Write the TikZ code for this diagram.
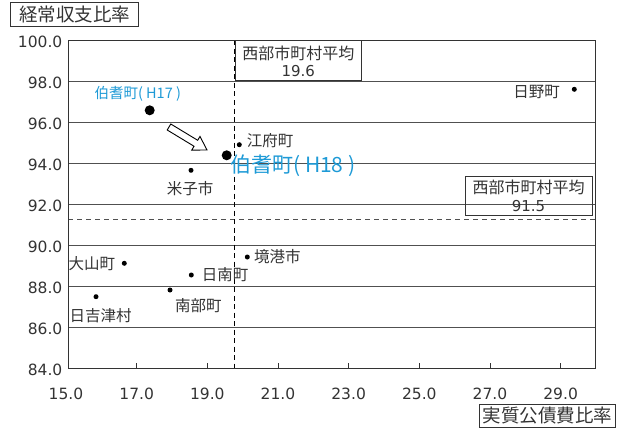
\documentclass[tikz,border=0pt]{standalone}
\usepackage{fontspec}
\setmainfont{Noto Sans CJK JP}
\newfontfamily\numfont{DejaVu Sans}
\definecolor{blu}{HTML}{1E9AD6}
\definecolor{gridc}{HTML}{505050}
\definecolor{txt}{HTML}{333333}
\begin{document}
\begin{tikzpicture}[x=1pt,y=-1pt,
  gridline/.style={draw=gridc,line width=0.9pt},
  axlab/.style={inner sep=0pt,text=txt,font=\numfont\fontsize{15.5}{16}\selectfont},
  ptlab/.style={inner sep=0pt,text=txt,font=\fontsize{15.5}{16}\selectfont},
  dot/.style={circle,fill=black,inner sep=0pt,minimum size=5pt},
  bigdot/.style={circle,fill=black,inner sep=0pt,minimum size=10pt},
  boxed/.style={draw=txt,line width=0.9pt},
  avglab/.style={inner sep=0pt,text=txt,font=\fontsize{16}{16}\selectfont},
  avgnum/.style={inner sep=0pt,text=txt,font=\numfont\fontsize{15}{16}\selectfont},
  titlab/.style={inner sep=0pt,text=txt,font=\fontsize{18.5}{19}\selectfont}]
\useasboundingbox (0,0) rectangle (617,433);
% grid lines
\foreach \v in {98,96,94,92,90,88,86}
  \draw[gridline] (68,{40.5+(100-\v)*20.5}) -- (595,{40.5+(100-\v)*20.5});
% dashed averages
\draw[gridc,line width=0.9pt,dash pattern=on 5pt off 4pt] (68,219) -- (595,219);
\draw[black,line width=0.9pt,dash pattern=on 5pt off 3.5pt] (234.3,40.5) -- (234.3,368.5);
% frame
\draw[line width=1pt,draw=txt] (68,40.5) rectangle (595,368.5);
% ticks
\foreach \v in {17,19,...,29}
  \draw[line width=0.9pt,draw=txt] ({66+(\v-15)*35.33},368.5) -- ({66+(\v-15)*35.33},362.5);
% y labels
\foreach \v/\t in {100/100.0,98/98.0,96/96.0,94/94.0,92/92.0,90/90.0,88/88.0,86/86.0,84/84.0}
  \node[axlab,anchor=east] (y\v) at (62.5,{42+(100-\v)*20.5}) {\t};
% x labels
\foreach \v in {15,17,...,29}
  \node[axlab] (x\v) at ({66+(\v-15)*35.33},394) {\v.0};
% axis titles
\draw[boxed] (10.7,2.7) rectangle (138.3,26);
\node[titlab] (ytitle) at (74.5,14.5) {経常収支比率};
\draw[boxed] (479,404.3) rectangle (615,427.7);
\node[titlab] (xtitle) at (547.5,416) {実質公債費比率};
% average boxes
\draw[boxed] (235,40.5) rectangle (361.7,80.7);
\node[avglab] (avgx1) at (298.3,53) {西部市町村平均};
\node[avgnum] (avgx2) at (298.3,71) {19.6};
\draw[boxed] (465.7,176) rectangle (592.3,215);
\node[avglab] (avgy1) at (528.5,187.5) {西部市町村平均};
\node[avgnum] (avgy2) at (528.5,206) {91.5};
% data points
\node[bigdot] (h17) at (149.7,110.3) {};
\node[bigdot] (h18) at (226.7,155.3) {};
\node[dot] (kofu) at (239.3,144.7) {};
\node[dot] (yonago) at (191,170.3) {};
\node[dot] (hino) at (574.3,89.3) {};
\node[dot] (daisen) at (124.3,263.3) {};
\node[dot] (hiezu) at (96,296.7) {};
\node[dot] (nanbu) at (170,290) {};
\node[dot] (nichinan) at (191.3,275) {};
\node[dot] (sakai) at (247.3,257) {};
% labels
\node[inner sep=0pt,text=blu,font=\fontsize{14.5}{15}\selectfont,anchor=west] (lh17) at (94.3,94) {伯耆町( H17 )};
\node[inner sep=0pt,text=blu,font=\fontsize{21}{22}\selectfont,anchor=west] (lh18) at (230,166) {伯耆町( H18 )};
\node[ptlab,anchor=west] (lkofu) at (246.7,140.5) {江府町};
\node[ptlab] (lyonago) at (190,188.3) {米子市};
\node[ptlab,anchor=east] (lhino) at (560,91.7) {日野町};
\node[ptlab,anchor=west] (ldaisen) at (68.5,264) {大山町};
\node[ptlab,anchor=west] (lhiezu) at (69.5,316) {日吉津村};
\node[ptlab] (lnanbu) at (198.3,306) {南部町};
\node[ptlab,anchor=west] (lnichinan) at (201.7,275) {日南町};
\node[ptlab,anchor=west] (lsakai) at (254,256.7) {境港市};
% hollow arrow
\draw[line width=0.9pt,fill=white,line join=miter] (167.19,129.99) -- (170.81,124.01) -- (197.66,140.28) -- (199.99,136.43) -- (207,150) -- (191.71,150.11) -- (194.04,146.26) -- cycle;
\end{tikzpicture}
\end{document}
